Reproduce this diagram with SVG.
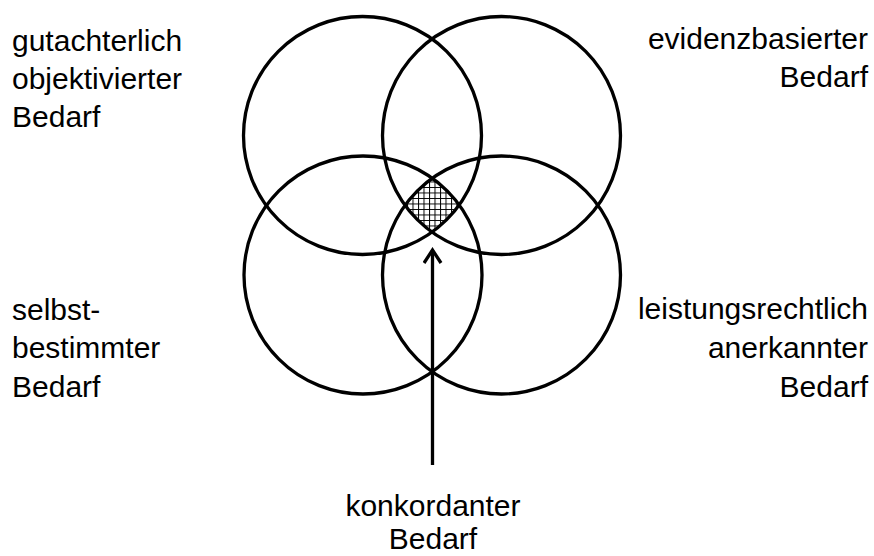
<svg xmlns="http://www.w3.org/2000/svg" width="874" height="556" viewBox="0 0 874 556">
<style>
.c{fill:none;stroke:#000;stroke-width:3.3}
.t{font-family:"Liberation Sans",Arial,sans-serif;font-size:30px;fill:#000}
.r{text-anchor:end}
.m{text-anchor:middle}
</style>
<defs>
<pattern id="grid" patternUnits="userSpaceOnUse" width="5.5" height="5.5" x="0" y="0">
<path d="M0 0.5H5.5M0.5 0V5.5" stroke="#000" stroke-width="1" fill="none"/>
</pattern>
<clipPath id="cTL"><circle cx="362.5" cy="135.5" r="119"/></clipPath>
<clipPath id="cTR"><circle cx="501.5" cy="135.5" r="119"/></clipPath>
<clipPath id="cBL"><circle cx="363" cy="275" r="119"/></clipPath>
<clipPath id="cBR"><circle cx="501.5" cy="275" r="119"/></clipPath>
<marker id="arr" viewBox="0 0 20 20" refX="17" refY="10" markerWidth="20" markerHeight="20" markerUnits="userSpaceOnUse" orient="auto">
<path d="M4 1.5 L17 10 L4 18.5" fill="none" stroke="#000" stroke-width="3.3" stroke-linejoin="miter"/>
</marker>
</defs>
<g id="intersection">
<g clip-path="url(#cTL)"><g clip-path="url(#cTR)"><g clip-path="url(#cBL)"><g clip-path="url(#cBR)">
<rect x="395" y="170" width="75" height="70" fill="url(#grid)"/>
</g></g></g></g>
</g>
<g id="circle-gutachterlich"><circle class="c" cx="362.5" cy="135.5" r="119"/></g>
<g id="circle-evidenzbasiert"><circle class="c" cx="501.5" cy="135.5" r="119"/></g>
<g id="circle-selbstbestimmt"><circle class="c" cx="363" cy="275" r="119"/></g>
<g id="circle-leistungsrechtlich"><circle class="c" cx="501.5" cy="275" r="119"/></g>
<g id="connectors">
<line x1="432.5" y1="465" x2="432.5" y2="250" stroke="#000" stroke-width="3.3" marker-end="url(#arr)"/>
</g>
<g id="label-gutachterlich">
<text class="t" x="12" y="51">gutachterlich</text>
<text class="t" x="12" y="89">objektivierter</text>
<text class="t" x="12" y="127">Bedarf</text>
</g>
<g id="label-evidenzbasiert">
<text class="t r" x="868" y="49">evidenzbasierter</text>
<text class="t r" x="868" y="87">Bedarf</text>
</g>
<g id="label-selbstbestimmt">
<text class="t" x="12" y="320">selbst-</text>
<text class="t" x="12" y="358">bestimmter</text>
<text class="t" x="12" y="397">Bedarf</text>
</g>
<g id="label-leistungsrechtlich">
<text class="t r" x="868" y="319">leistungsrechtlich</text>
<text class="t r" x="868" y="358">anerkannter</text>
<text class="t r" x="868" y="397">Bedarf</text>
</g>
<g id="label-konkordant">
<text class="t m" x="433" y="516">konkordanter</text>
<text class="t m" x="433" y="549">Bedarf</text>
</g>
</svg>
